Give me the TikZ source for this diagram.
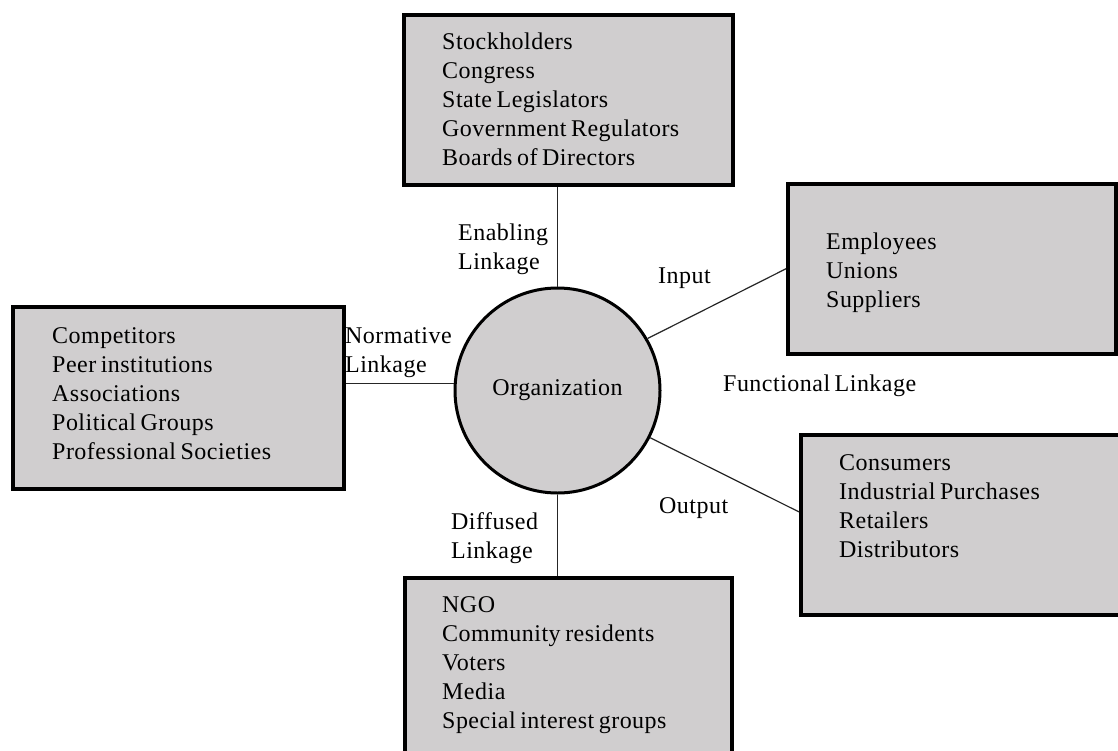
\documentclass[tikz,border=0pt]{standalone}
\usepackage{fontspec}
\setmainfont{Liberation Serif}[LetterSpace=2.0,WordSpace=0.7]
\usetikzlibrary{calc}
\definecolor{boxgray}{RGB}{208,206,207}
\begin{document}
\begin{tikzpicture}[x=1pt,y=-1pt,
  box/.style={draw=black, line width=3.5pt, fill=boxgray, rectangle, inner sep=0pt, anchor=north west},
  txt/.style={font=\fontsize{24}{29}\selectfont, align=left, inner sep=0pt, anchor=base west},
  link/.style={draw=black!85, line width=1.2pt}]
\path[use as bounding box, clip] (0,0) rectangle (1118,750);
\fill[white] (0,0) rectangle (1118,750);

% boxes
\node[box, minimum width=329pt, minimum height=170pt] (topbox) at (402,13) {};
\node[box, minimum width=331pt, minimum height=182pt] (leftbox) at (11,305) {};
\node[box, minimum width=328pt, minimum height=170pt] (inbox) at (786,182) {};
\node[box, minimum width=331pt, minimum height=180pt] (outbox) at (799,433) {};
\node[box, minimum width=327pt, minimum height=190pt] (botbox) at (403,576) {};

% organization
\node[circle, draw=black, line width=3pt, fill=boxgray, minimum size=205pt, inner sep=0pt,
      font=\fontsize{24}{29}\selectfont] (org) at (557.5,390.5) {Organization};

% box texts (anchored at the baseline of the last line)
\node[txt] (toptext) at (442,165) {Stockholders\\Congress\\State Legislators\\Government Regulators\\Boards of Directors};
\node[txt] (lefttext) at (52,459) {Competitors\\Peer institutions\\Associations\\Political Groups\\Professional Societies};
\node[txt] (intext) at (826,307) {Employees\\Unions\\Suppliers};
\node[txt] (outtext) at (839,557) {Consumers\\Industrial Purchases\\Retailers\\Distributors};
\node[txt] (bottext) at (442,728) {NGO\\Community residents\\Voters\\Media\\Special interest groups};

% labels
\node[txt] (enabling) at (458,269) {Enabling\\Linkage};
\node[txt] (normative) at (345,372) {Normative\\Linkage};
\node[txt] (input) at (658,283) {Input};
\node[txt] (functional) at (723,391) {Functional Linkage};
\node[txt] (output) at (659,513) {Output};
\node[txt] (diffused) at (451,558) {Diffused\\Linkage};

% connectors
\draw[link] (org.north) -- (org.north |- topbox.south);
\draw[link] (org.south) -- (org.south |- botbox.north);
\draw[link] (org.176) -- (org.176 -| leftbox.east);
\draw[link] (org.30) -- (inbox.west);
\coordinate (outend) at ($(outbox.north west)!0.43!(outbox.south west)$);
\draw[link] (org.-27) -- (outend);
\end{tikzpicture}
\end{document}
